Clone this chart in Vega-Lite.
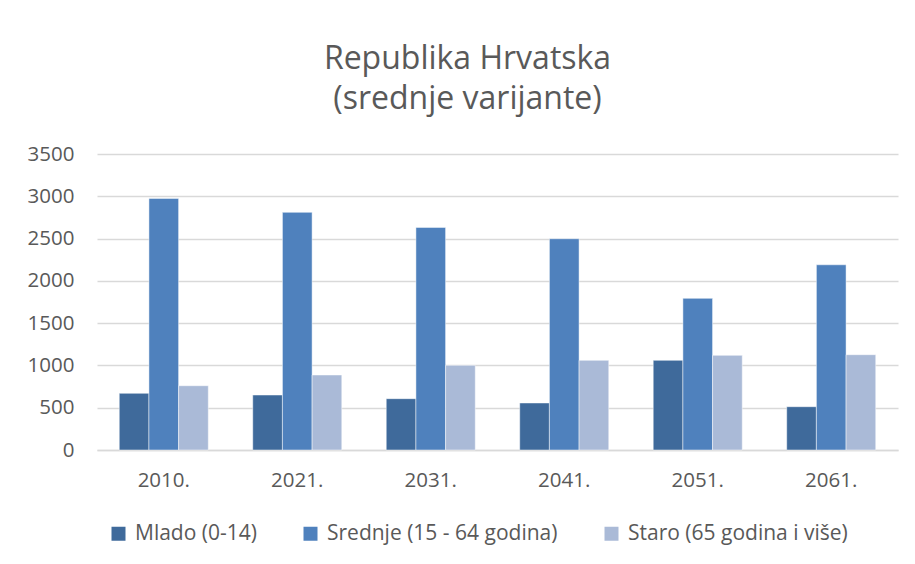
{
  "$schema": "https://vega.github.io/schema/vega-lite/v6.json",
  "autosize": {"type": "none"},
  "width": 801,
  "height": 296,
  "padding": {"left": 97, "top": 154, "right": 17, "bottom": 114},
  "background": "#ffffff",
  "title": {
    "text": ["Republika Hrvatska", "(srednje varijante)"],
    "fontSize": 32,
    "fontWeight": "normal",
    "font": "Open Sans",
    "color": "#595959",
    "lineHeight": 40,
    "anchor": "middle",
    "frame": "group",
    "dx": -30,
    "offset": 28
  },
  "data": {
    "values": [
      {"godina": "2010.", "skupina": "Mlado (0-14)", "vrijednost": 670},
      {"godina": "2010.", "skupina": "Srednje (15 - 64 godina)", "vrijednost": 2975},
      {"godina": "2010.", "skupina": "Staro (65 godina i više)", "vrijednost": 760},
      {"godina": "2021.", "skupina": "Mlado (0-14)", "vrijednost": 650},
      {"godina": "2021.", "skupina": "Srednje (15 - 64 godina)", "vrijednost": 2810},
      {"godina": "2021.", "skupina": "Staro (65 godina i više)", "vrijednost": 887},
      {"godina": "2031.", "skupina": "Mlado (0-14)", "vrijednost": 607},
      {"godina": "2031.", "skupina": "Srednje (15 - 64 godina)", "vrijednost": 2632},
      {"godina": "2031.", "skupina": "Staro (65 godina i više)", "vrijednost": 1001},
      {"godina": "2041.", "skupina": "Mlado (0-14)", "vrijednost": 556},
      {"godina": "2041.", "skupina": "Srednje (15 - 64 godina)", "vrijednost": 2498},
      {"godina": "2041.", "skupina": "Staro (65 godina i više)", "vrijednost": 1060},
      {"godina": "2051.", "skupina": "Mlado (0-14)", "vrijednost": 1060},
      {"godina": "2051.", "skupina": "Srednje (15 - 64 godina)", "vrijednost": 1793},
      {"godina": "2051.", "skupina": "Staro (65 godina i više)", "vrijednost": 1119},
      {"godina": "2061.", "skupina": "Mlado (0-14)", "vrijednost": 512},
      {"godina": "2061.", "skupina": "Srednje (15 - 64 godina)", "vrijednost": 2190},
      {"godina": "2061.", "skupina": "Staro (65 godina i više)", "vrijednost": 1127}
    ]
  },
  "mark": {"type": "bar", "stroke": "#ffffff", "strokeWidth": 0.8, "strokeOpacity": 0.6},
  "encoding": {
    "x": {
      "field": "godina",
      "type": "nominal",
      "sort": null,
      "scale": {"paddingInner": 0.333, "paddingOuter": 0.1667},
      "axis": {
        "title": null,
        "labelAngle": 0,
        "ticks": false,
        "domain": true,
        "domainColor": "#D9D9D9",
        "domainWidth": 1.5,
        "labelFont": "Open Sans",
        "labelFontSize": 20.5,
        "labelColor": "#595959",
        "labelPadding": 20
      }
    },
    "xOffset": {
      "field": "skupina",
      "type": "nominal",
      "sort": null,
      "scale": {"paddingInner": 0, "paddingOuter": 0}
    },
    "y": {
      "field": "vrijednost",
      "type": "quantitative",
      "scale": {"domain": [0, 3500], "nice": false},
      "axis": {
        "title": null,
        "values": [0, 500, 1000, 1500, 2000, 2500, 3000, 3500],
        "format": "d",
        "domain": false,
        "ticks": false,
        "grid": true,
        "gridColor": "#D9D9D9",
        "gridWidth": 1.5,
        "labelFont": "Open Sans",
        "labelFontSize": 20.5,
        "labelColor": "#595959",
        "labelPadding": 23
      }
    },
    "color": {
      "field": "skupina",
      "type": "nominal",
      "sort": null,
      "scale": {
        "domain": ["Mlado (0-14)", "Srednje (15 - 64 godina)", "Staro (65 godina i više)"],
        "range": ["#3F6A9B", "#4F81BD", "#AABAD7"]
      },
      "legend": {
        "title": null,
        "orient": "none",
        "direction": "horizontal",
        "legendX": 11,
        "legendY": 369,
        "symbolType": "square",
        "symbolSize": 196,
        "symbolStrokeWidth": 0,
        "symbolOpacity": 1,
        "labelFont": "Open Sans",
        "labelFontSize": 21,
        "labelColor": "#595959",
        "labelLimit": 400,
        "labelOffset": 6,
        "columnPadding": 43
      }
    }
  },
  "config": {
    "view": {"stroke": null}
  }
}
